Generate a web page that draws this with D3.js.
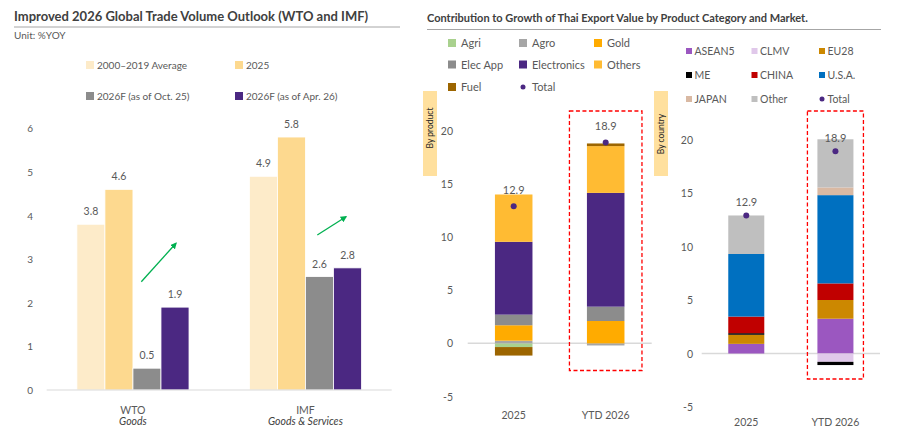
<!DOCTYPE html>
<html>
<head>
<meta charset="utf-8">
<script src="https://cdn.jsdelivr.net/npm/d3@7"></script>
<style>
  body { margin: 0; background: #fff; }
  svg { font-family: Lato, "Noto Sans", sans-serif; }
</style>
</head>
<body>
<div id="chart"></div>
<script>
// --- left panel: trade volume outlook
const groups = ["WTO", "IMF"];
const groupSub = ["Goods", "Goods & Services"];
const volSeries = ["2000–2019 Average", "2025", "2026F  (as of Oct. 25)", "2026F (as of Apr. 26)"];
const volColors = ["#fdebc9", "#fdd98f", "#8c8c8c", "#4b2882"];
const volValues = [
  [3.8, 4.6, 0.5, 1.9],  // WTO
  [4.9, 5.8, 2.6, 2.8]   // IMF
];
const volTicks = [0, 1, 2, 3, 4, 5, 6];

// --- middle panel: contribution by product
const periods = ["2025", "YTD 2026"];
const products = ["Agri", "Agro", "Gold", "Elec App", "Electronics", "Others", "Fuel"];
const productColors = ["#a9d18e", "#a6a6a6", "#ffab00", "#8c8c8c", "#4b2882", "#ffbb33", "#9c6500"];
const productValues = [
  [-0.35, 0.0],   // Agri
  [0.25, -0.2],   // Agro
  [1.45, 2.1],    // Gold
  [1.0, 1.35],    // Elec App
  [6.85, 10.7],   // Electronics
  [4.45, 4.4],    // Others
  [-0.8, 0.25]    // Fuel
];
const productTotals = [12.9, 18.9];

// --- right panel: contribution by market
const countries = ["ASEAN5", "CLMV", "EU28", "ME", "CHINA", "U.S.A.", "JAPAN", "Other"];
const countryColors = ["#9b57c0", "#e0c8ea", "#cc8800", "#000000", "#c00000", "#0070c0", "#d9b9a3", "#bfbfbf"];
const countryValues = [
  [0.9, 3.25],    // ASEAN5
  [0.0, -0.78],   // CLMV
  [0.85, 1.75],   // EU28
  [0.15, -0.3],   // ME
  [1.55, 1.55],   // CHINA
  [5.85, 8.25],   // U.S.A.
  [0.0, 0.72],    // JAPAN
  [3.6, 4.5]      // Other
];
const countryTotals = [12.9, 18.9];
const contribTicks = [-5, 0, 5, 10, 15, 20];

const totalColor = "#4b2882";
const textColor = "#595959";

const svg = d3.select("#chart").append("svg")
  .attr("width", 897)
  .attr("height", 433);

// ================= LEFT PANEL =================
svg.append("text")
  .attr("x", 14).attr("y", 21)
  .attr("font-size", 13).attr("font-weight", "bold").attr("fill", "#404040")
  .text("Improved 2026 Global Trade Volume Outlook (WTO and IMF)");
svg.append("line")
  .attr("x1", 14).attr("x2", 400).attr("y1", 27).attr("y2", 27)
  .attr("stroke", "#a6a6a6");
svg.append("text")
  .attr("x", 14).attr("y", 39)
  .attr("font-size", 10).attr("fill", textColor)
  .text("Unit: %YOY");

// legend
const volLegendPos = [[86, 65], [235, 65], [86, 96], [235, 96]];
volSeries.forEach((s, i) => {
  const [lx, ly] = volLegendPos[i];
  svg.append("rect")
    .attr("x", lx).attr("y", ly - 4).attr("width", 8).attr("height", 8)
    .attr("fill", volColors[i]);
  svg.append("text")
    .attr("x", lx + 11).attr("y", ly + 4)
    .attr("font-size", 10).attr("fill", textColor)
    .text(s);
});

const yL = d3.scaleLinear().domain([0, 6]).range([390, 128.3]);
const xL = d3.scaleBand().domain(groups).range([46.7, 391.7])
  .paddingInner(0.35).paddingOuter(0.175);
const xLInner = d3.scaleBand().domain(volSeries).range([0, xL.bandwidth()]);

// y axis labels only
svg.append("g").selectAll("text")
  .data(volTicks)
  .join("text")
  .attr("x", 33).attr("y", d => yL(d) + 4)
  .attr("text-anchor", "end").attr("font-size", 10).attr("fill", textColor)
  .text(d => d);

const gL = svg.append("g").selectAll("g")
  .data(groups)
  .join("g")
  .attr("transform", d => `translate(${xL(d)},0)`);

gL.selectAll("rect")
  .data((d, gi) => volValues[gi].map((v, i) => ({ key: volSeries[i], value: v, i })))
  .join("rect")
  .attr("x", d => xLInner(d.key))
  .attr("y", d => yL(d.value))
  .attr("width", xLInner.bandwidth())
  .attr("height", d => yL(0) - yL(d.value))
  .attr("fill", d => volColors[d.i])
  .attr("stroke", "#fff").attr("stroke-width", 0.8);

gL.selectAll("text.val")
  .data((d, gi) => volValues[gi].map((v, i) => ({ key: volSeries[i], value: v })))
  .join("text")
  .attr("class", "val")
  .attr("x", d => xLInner(d.key) + xLInner.bandwidth() / 2)
  .attr("y", d => yL(d.value) - 9)
  .attr("text-anchor", "middle").attr("font-size", 10.5).attr("fill", textColor)
  .text(d => d.value.toFixed(1));

svg.append("line")
  .attr("x1", 46.7).attr("x2", 391.7).attr("y1", yL(0)).attr("y2", yL(0))
  .attr("stroke", "#d9d9d9");

groups.forEach((g, i) => {
  const cx = xL(g) + xL.bandwidth() / 2;
  svg.append("text")
    .attr("x", cx).attr("y", 414)
    .attr("text-anchor", "middle").attr("font-size", 10.5).attr("fill", textColor)
    .text(g);
  svg.append("text")
    .attr("x", cx).attr("y", 425)
    .attr("text-anchor", "middle").attr("font-size", 10.5).attr("font-style", "italic")
    .attr("fill", "#404040")
    .text(groupSub[i]);
});

// green trend arrows
const defs = svg.append("defs");
defs.append("marker")
  .attr("id", "arrow").attr("viewBox", "0 0 10 10")
  .attr("refX", 8).attr("refY", 5)
  .attr("markerWidth", 5).attr("markerHeight", 5)
  .attr("orient", "auto")
  .append("path").attr("d", "M0,0L10,5L0,10z").attr("fill", "#00b050");
[[141.3, 281.7, 176, 243.3], [317.3, 235, 346, 216.7]].forEach(a => {
  svg.append("line")
    .attr("x1", a[0]).attr("y1", a[1]).attr("x2", a[2]).attr("y2", a[3])
    .attr("stroke", "#00b050").attr("stroke-width", 1.3)
    .attr("marker-end", "url(#arrow)");
});

// ================= CONTRIBUTION PANELS =================
svg.append("text")
  .attr("x", 427).attr("y", 22)
  .attr("font-size", 11).attr("font-weight", "bold").attr("fill", "#404040")
  .text("Contribution to Growth of Thai Export Value by Product Category and Market.");
svg.append("line")
  .attr("x1", 427).attr("x2", 881).attr("y1", 29.5).attr("y2", 29.5)
  .attr("stroke", "#a6a6a6");

function stackedPanel(opt) {
  const rows = periods.map((p, pi) => {
    const r = { period: p };
    opt.keys.forEach((k, ki) => { r[k] = opt.values[ki][pi]; });
    return r;
  });
  const series = d3.stack().keys(opt.keys).offset(d3.stackOffsetDiverging)(rows);

  const y = d3.scaleLinear().domain([-5, 20]).range(opt.yRange);
  const x = d3.scaleBand().domain(periods).range(opt.xRange)
    .paddingInner(opt.pad).paddingOuter(opt.pad / 2);

  // side tag
  svg.append("rect")
    .attr("x", opt.tagX).attr("y", 91).attr("width", 14).attr("height", 85)
    .attr("fill", "#ffe09e");
  svg.append("text")
    .attr("transform", `translate(${opt.tagX + 10},${opt.tagMid}) rotate(-90)`)
    .attr("text-anchor", "middle").attr("font-size", 8.5).attr("fill", "#262626")
    .text(opt.tag);

  // legend
  opt.keys.concat(["Total"]).forEach((k, i) => {
    const lx = opt.legX[i % 3], ly = opt.legY[Math.floor(i / 3)];
    if (k === "Total") {
      svg.append("circle").attr("cx", lx + opt.sw / 2).attr("cy", ly).attr("r", 2.5)
        .attr("fill", totalColor);
    } else {
      svg.append("rect")
        .attr("x", lx).attr("y", ly - opt.sw / 2).attr("width", opt.sw).attr("height", opt.sw)
        .attr("fill", opt.colors[i]);
    }
    svg.append("text")
      .attr("x", lx + opt.sw + opt.gap).attr("y", ly + 4)
      .attr("font-size", opt.legFont).attr("fill", textColor)
      .text(k);
  });

  // y labels
  svg.append("g").selectAll("text")
    .data(contribTicks)
    .join("text")
    .attr("x", opt.tickX).attr("y", d => y(d) + 4)
    .attr("text-anchor", "end").attr("font-size", 10.5).attr("fill", textColor)
    .text(d => d);

  svg.append("line")
    .attr("x1", opt.xRange[0]).attr("x2", opt.xRange[1])
    .attr("y1", y(0)).attr("y2", y(0))
    .attr("stroke", "#d9d9d9").attr("stroke-width", 1.5);

  svg.append("g").selectAll("g")
    .data(series)
    .join("g")
    .attr("fill", (d, i) => opt.colors[i])
    .selectAll("rect")
    .data(d => d)
    .join("rect")
    .attr("x", d => x(d.data.period))
    .attr("y", d => y(d[1]))
    .attr("width", x.bandwidth())
    .attr("height", d => y(d[0]) - y(d[1]));

  // highlight box around latest period
  const xb = x("YTD 2026");
  svg.append("rect")
    .attr("x", xb - opt.boxPad).attr("y", 111)
    .attr("width", x.bandwidth() + 2 * opt.boxPad).attr("height", opt.boxBottom - 111)
    .attr("fill", "none").attr("stroke", "#ff0000").attr("stroke-width", 1.3)
    .attr("stroke-dasharray", "4,2.5");

  periods.forEach((p, i) => {
    const cx = x(p) + x.bandwidth() / 2;
    svg.append("circle").attr("cx", cx).attr("cy", y(opt.totals[i])).attr("r", 3)
      .attr("fill", totalColor);
    svg.append("text")
      .attr("x", cx).attr("y", y(opt.totals[i]) - opt.labelOff)
      .attr("text-anchor", "middle").attr("font-size", 11).attr("fill", textColor)
      .text(opt.totals[i].toFixed(1));
    svg.append("text")
      .attr("x", cx).attr("y", opt.catY)
      .attr("text-anchor", "middle").attr("font-size", 10.5).attr("fill", textColor)
      .text(p);
  });
}

stackedPanel({
  keys: products, colors: productColors, values: productValues, totals: productTotals,
  yRange: [396.5, 130.7], xRange: [467.7, 651.7], pad: 0.592,
  tag: "By product", tagX: 423, tagMid: 128,
  legX: [448, 519, 594], legY: [43, 64.5, 87], sw: 8, gap: 5, legFont: 11,
  tickX: 453, boxPad: 17.5, boxBottom: 370.5, labelOff: 12, catY: 419
});

stackedPanel({
  keys: countries, colors: countryColors, values: countryValues, totals: countryTotals,
  yRange: [407, 139.5], xRange: [701.7, 880], pad: 0.596,
  tag: "By country", tagX: 654, tagMid: 134,
  legX: [686, 751.5, 819], legY: [51, 75, 99], sw: 6, gap: 2.5, legFont: 10.5,
  tickX: 693, boxPad: 10, boxBottom: 379, labelOff: 9, catY: 425.5
});
</script>
</body>
</html>
